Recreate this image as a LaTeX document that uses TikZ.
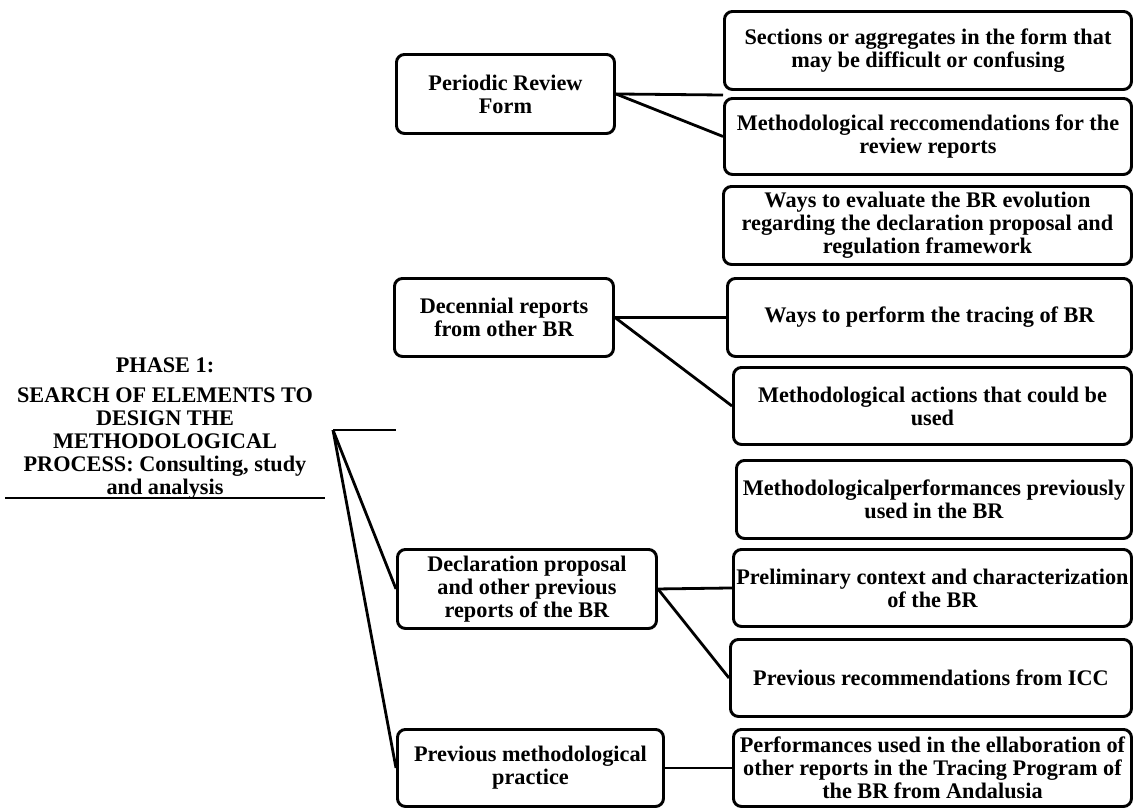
\documentclass[tikz,border=0pt]{standalone}
\usepackage{fontspec}
\setmainfont{Liberation Serif}
\newcommand\boxfont{\bfseries\fontsize{16.7}{17.3}\selectfont}
\begin{document}
\begin{tikzpicture}[x=0.75pt,y=-0.75pt,
  box/.style={draw, line width=2.2pt, rounded corners=6pt, inner sep=0pt, align=center, anchor=north west, font=\boxfont},
  conn/.style={line width=2.1pt}]
\useasboundingbox (0,0) rectangle (1133,808);
% middle boxes
\node[box, minimum width=218*0.75pt, minimum height=79*0.75pt] (P) at (395,53) {Periodic Review\\Form};
\node[box, minimum width=219*0.75pt, minimum height=78*0.75pt] (D) at (393,277) {Decennial reports\\from other BR};
\node[box, minimum width=259*0.75pt, minimum height=79*0.75pt] (DP) at (396,548) {Declaration proposal\\and other previous\\reports of the BR};
\node[box, minimum width=266*0.75pt, minimum height=77*0.75pt] (PM) at (396,728) {Previous methodological\\practice};
% right boxes
\node[box, minimum width=407*0.75pt, minimum height=78*0.75pt] (R1) at (723,10) {Sections or aggregates in the form that\\may be difficult or confusing};
\node[box, minimum width=407*0.75pt, minimum height=76*0.75pt] (R2) at (723,97) {Methodological reccomendations for the\\review reports};
\node[box, minimum width=408*0.75pt, minimum height=78*0.75pt] (R3) at (722,185) {Ways to evaluate the BR evolution\\regarding the declaration proposal and\\regulation framework};
\node[box, minimum width=404*0.75pt, minimum height=78*0.75pt] (R4) at (726,277) {Ways to perform the tracing of BR};
\node[box, minimum width=398*0.75pt, minimum height=77*0.75pt] (R5) at (732,366) {Methodological actions that could be\\used};
\node[box, minimum width=395*0.75pt, minimum height=78*0.75pt] (R6) at (735,459) {Methodologicalperformances previously\\used in the BR};
\node[box, minimum width=398*0.75pt, minimum height=77*0.75pt] (R7) at (732,548) {Preliminary context and characterization\\of the BR};
\node[box, minimum width=401*0.75pt, minimum height=77*0.75pt] (R8) at (729,638) {Previous recommendations from ICC};
\node[box, minimum width=398*0.75pt, minimum height=77*0.75pt] (R9) at (732,728) {Performances used in the ellaboration of\\other reports in the Tracing Program of\\the BR from Andalusia};
% left text
\node[align=center, font=\boxfont, inner sep=0pt] (L) at (165,429) {PHASE 1:\\[5pt]SEARCH OF ELEMENTS TO\\DESIGN THE\\METHODOLOGICAL\\PROCESS: Consulting, study\\and analysis};
\coordinate (U1) at (5,498);
\coordinate (U2) at (325,498);
\draw[conn] (U1) -- (U2);
% junction
\coordinate (J) at (333,430);
\coordinate (Js) at (396,430);
\draw[conn] (J) -- (Js);
\draw[conn] (J) -- (DP.west);
\draw[conn] (J) -- (PM.west);
% connectors
\coordinate (Pf) at (723,95);
\draw[conn] (P.east) -- (Pf);
\draw[conn] (P.east) -- (R2.west);
\draw[conn] (D.east) -- (R4.west);
\draw[conn] (D.east) -- (R5.west);
\draw[conn] (DP.east) -- (R7.west);
\draw[conn] (DP.east) -- (R8.west);
\draw[conn] (PM.east) -- (R9.west);
\end{tikzpicture}
\end{document}
